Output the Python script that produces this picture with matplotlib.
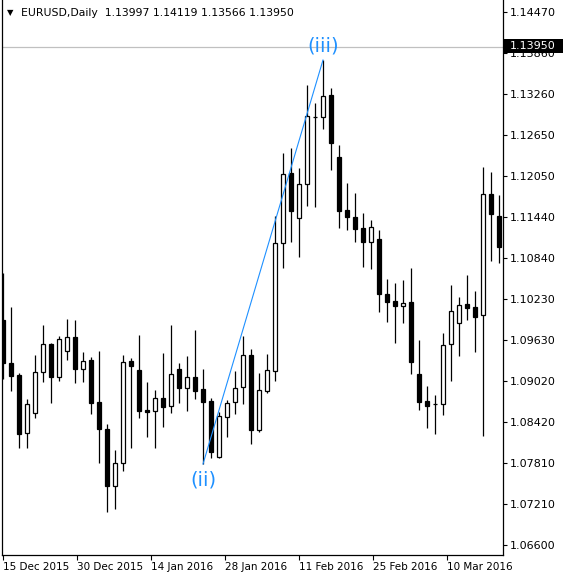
import matplotlib
matplotlib.use("Agg")
import matplotlib.pyplot as plt
from matplotlib.patches import Rectangle

# ---------------- data ----------------
title_text = "EURUSD,Daily  1.13997 1.14119 1.13566 1.13950"
current_price = 1.13950

opens = [1.09920, 1.09286, 1.09109, 1.08253, 1.08548, 1.09153, 1.09566, 1.09079, 1.09463, 1.09670,
         1.09197, 1.09330, 1.08710, 1.08312, 1.07471, 1.07810, 1.09315, 1.09183, 1.08592, 1.08578,
         1.08769, 1.08651, 1.09197, 1.08917, 1.09079, 1.08902, 1.08725, 1.07899, 1.08489, 1.08710,
         1.08932, 1.09404, 1.08297, 1.08873, 1.09168, 1.11057, 1.12090, 1.11426, 1.11927, 1.12916,
         1.12916, 1.13241, 1.12326, 1.11544, 1.11440, 1.11278, 1.11072, 1.11116, 1.10304, 1.10201,
         1.10127, 1.10186, 1.09124, 1.08725, 1.08681, 1.08681, 1.09566, 1.09876, 1.10157, 1.10112,
         1.09994, 1.11780, 1.11455]
highs = [1.10614, 1.10112, 1.09138, 1.08755, 1.09404, 1.09847, 1.09581, 1.09684, 1.09935, 1.09920,
         1.09448, 1.09374, 1.09463, 1.08386, 1.08002, 1.09404, 1.09360, 1.09699, 1.09006, 1.08887,
         1.09433, 1.09847, 1.09286, 1.09389, 1.09773, 1.09197, 1.08769, 1.08563, 1.08740, 1.09168,
         1.09684, 1.09492, 1.09138, 1.09419, 1.11455, 1.12385, 1.12459, 1.12164, 1.13388, 1.13123,
         1.13757, 1.13344, 1.12503, 1.11942, 1.11795, 1.11499, 1.11396, 1.11249, 1.10525, 1.10466,
         1.10511, 1.10688, 1.09625, 1.08947, 1.08814, 1.09729, 1.10437, 1.10260, 1.10585, 1.10348,
         1.12178, 1.12105, 1.11765]
lows = [1.09050, 1.08873, 1.08032, 1.08032, 1.08474, 1.09006, 1.08696, 1.09020, 1.09330, 1.08991,
        1.09006, 1.08533, 1.07810, 1.07087, 1.07131, 1.07692, 1.08032, 1.08474, 1.08194, 1.08032,
        1.08341, 1.08548, 1.08696, 1.08578, 1.08755, 1.07795, 1.07884, 1.07884, 1.08194, 1.08533,
        1.08681, 1.08091, 1.08268, 1.08843, 1.09020, 1.10688, 1.11072, 1.10850, 1.11603, 1.11588,
        1.12739, 1.12134, 1.11278, 1.11249, 1.11072, 1.10703, 1.10673, 1.10039, 1.09891, 1.09581,
        1.09876, 1.09124, 1.08592, 1.08327, 1.08238, 1.08518, 1.09020, 1.09389, 1.09920, 1.09448,
        1.08209, 1.10791, 1.10762]
closes = [1.09286, 1.09094, 1.08238, 1.08681, 1.09153, 1.09566, 1.09079, 1.09640, 1.09670, 1.09197,
          1.09315, 1.08696, 1.08312, 1.07471, 1.07810, 1.09301, 1.09242, 1.08578, 1.08563, 1.08769,
          1.08637, 1.09124, 1.08917, 1.09079, 1.08873, 1.08710, 1.07973, 1.08504, 1.08696, 1.08917,
          1.09404, 1.08297, 1.08887, 1.09183, 1.11057, 1.12075, 1.11529, 1.11927, 1.12931, 1.12910,
          1.13226, 1.12532, 1.11529, 1.11440, 1.11263, 1.11072, 1.11293, 1.10304, 1.10186, 1.10127,
          1.10171, 1.09301, 1.08710, 1.08651, 1.08679, 1.09551, 1.10053, 1.10142, 1.10098, 1.09965,
          1.11780, 1.11485, 1.10998]

price_ticks = [1.14470, 1.13860, 1.13260, 1.12650, 1.12050, 1.11440, 1.10840,
               1.10230, 1.09630, 1.09020, 1.08420, 1.07810, 1.07210, 1.06600]
date_labels = ["15 Dec 2015", "30 Dec 2015", "14 Jan 2016", "28 Jan 2016",
               "11 Feb 2016", "25 Feb 2016", "10 Mar 2016"]
date_tick_pos = [0, 9.25, 18.5, 27.75, 37, 46.25, 55.5]

wave_start_bar = 25   # (ii) low
wave_end_bar = 40     # (iii) high
wave_labels = ["(ii)", "(iii)"]

# ---------------- figure ----------------
W, H = 563, 579
fig = plt.figure(figsize=(W / 100, H / 100), dpi=100)
fig.patch.set_facecolor("white")

ax = fig.add_axes([2 / W, (H - 555) / H, (503 - 2) / W, 555 / H])
ax.set_facecolor("white")
ax.set_xlim(-0.125, 62.5)
ax.set_ylim(1.064526, 1.146427)

for side in ["left", "bottom", "right"]:
    ax.spines[side].set_color("black")
    ax.spines[side].set_linewidth(0.9)
ax.spines["top"].set_visible(False)

# current price line
ax.axhline(current_price, color="#C0C0C0", lw=0.9, zorder=1)

# candles
xs = list(range(len(opens)))
ax.vlines(xs, lows, highs, color="black", lw=0.9, zorder=2)
for i in xs:
    o, c = opens[i], closes[i]
    bottom = min(o, c)
    height = abs(c - o)
    face = "white" if c > o else "black"
    ax.bar(i, height, bottom=bottom, width=0.5, color=face, edgecolor="black",
           linewidth=0.9, zorder=3)

# Elliott wave line and labels
ax.plot([wave_start_bar, wave_end_bar], [lows[wave_start_bar], highs[wave_end_bar]],
        color="#1E90FF", lw=0.8, zorder=4)
ax.annotate(wave_labels[0], xy=(wave_start_bar, lows[wave_start_bar]), xytext=(0, -11.5),
            textcoords="offset points", ha="center", va="center", color="#1E90FF",
            fontsize=14, zorder=5)
ax.annotate(wave_labels[1], xy=(wave_end_bar, highs[wave_end_bar]), xytext=(0, 10),
            textcoords="offset points", ha="center", va="center", color="#1E90FF",
            fontsize=14, zorder=5)

# axes ticks
ax.yaxis.tick_right()
ax.set_yticks(price_ticks)
ax.set_yticklabels([f"{p:.5f}" for p in price_ticks])
ax.tick_params(axis="y", direction="out", length=3, width=0.8, pad=2, labelsize=8,
               colors="black")
ax.set_xticks(date_tick_pos)
ax.set_xticklabels(date_labels)
for lbl in ax.get_xticklabels():
    lbl.set_horizontalalignment("left")
ax.tick_params(axis="x", direction="out", length=3.6, width=0.8, pad=1.5, labelsize=7.5,
               colors="black")

# current price tag on the right
fig.add_artist(Rectangle((504 / W, (H - 53) / H), 59 / W, 14 / H, transform=fig.transFigure,
                         facecolor="black", edgecolor="none", zorder=5))
fig.text(510 / W, (H - 46) / H, f"{current_price:.5f}", color="white", fontsize=8,
         va="center", ha="left", zorder=6)

# header
fig.text(7 / W, (H - 13) / H, "\u25bc", fontsize=6, va="center", ha="left", color="black")
fig.text(21 / W, (H - 13) / H, title_text, fontsize=7.8, va="center", ha="left", color="black")

fig.savefig("out.png", dpi=100, facecolor="white")
